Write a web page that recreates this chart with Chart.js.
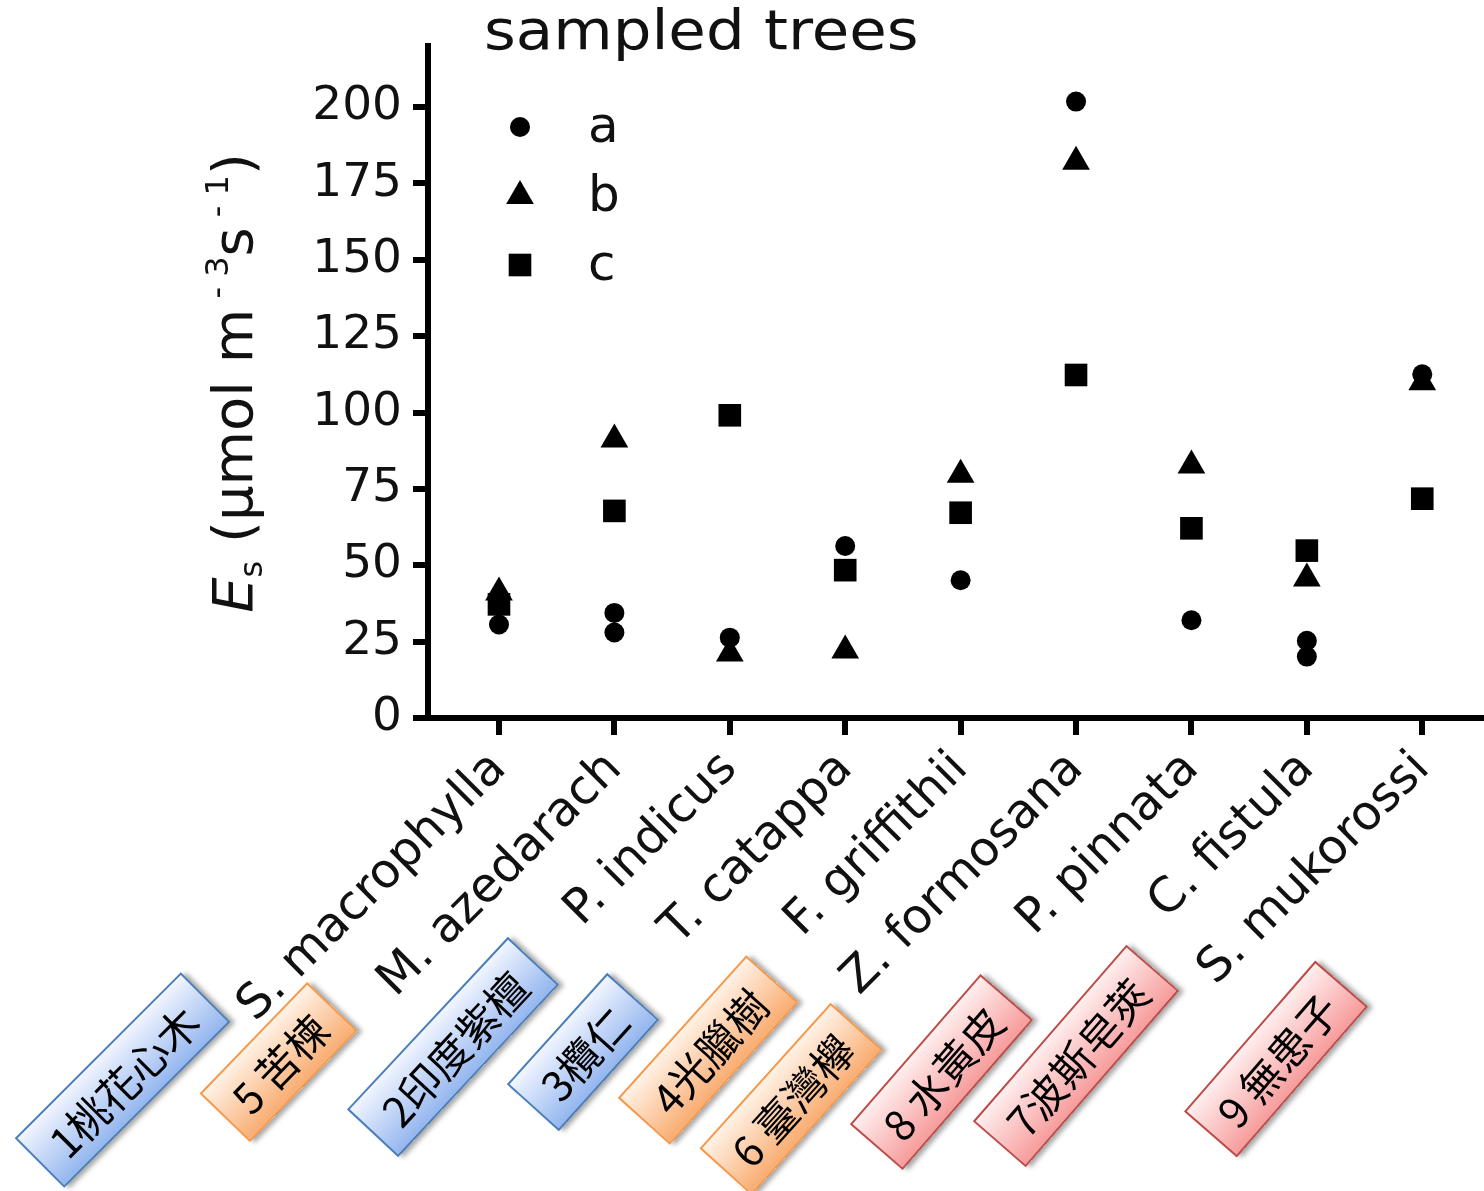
<!DOCTYPE html>
<html lang="zh-Hant">

<head>
    <meta charset="UTF-8">
    <title>sampled trees</title>
    <script src="https://cdn.jsdelivr.net/npm/chart.js"></script>
    <style>
        html, body { margin: 0; background: #fff; overflow: hidden; }
        #wrap { position: relative; width: 1484px; height: 1191px; overflow: hidden; }
        /* canvas is a bit wider than the page so the x axis runs to the right edge */
        #chart { position: absolute; left: 0; top: 0; }
        #title {
            position: absolute; left: 484px; top: 2px;
            font: 56px "DejaVu Sans"; line-height: 56px; color: #111; white-space: nowrap;
            transform: scaleX(1.09); transform-origin: left center;
        }
        #ytitle {
            position: absolute; width: 560px; height: 60px; left: -63px; top: 353px;
            transform: rotate(-90deg); transform-origin: center;
            font: 56px "DejaVu Sans"; line-height: 60px; color: #111; text-align: center; white-space: nowrap;
        }
        #ytitle sub, #ytitle sup { font-size: 32px; }
        #ytitle sub { vertical-align: -10px; }
        #ytitle sup { vertical-align: 24px; }
        .tag {
            position: absolute; height: 70px; box-sizing: border-box;
            display: flex; align-items: center; justify-content: center;
            font: 42px "Noto Sans CJK TC"; color: #000; white-space: pre;
            border: 2px solid; box-shadow: 3px 4px 5px rgba(0, 0, 0, 0.35);
            transform-origin: center;
        }
        .blue { background: linear-gradient(#f1f5ff, #94b6ef); border-color: #4a7ebb; }
        .orange { background: linear-gradient(#fff2e6, #f9ad72); border-color: #f79646; }
        .red { background: linear-gradient(#ffeeee, #f79c9c); border-color: #be4b48; }
    </style>
</head>

<body>
    <div id="wrap">
        <canvas id="chart" width="1500" height="1191"></canvas>
        <div id="title">sampled trees</div>
        <div id="ytitle"><i>E</i><sub>s</sub> (μmol m<sup> - 3</sup>s<sup> - 1</sup>)</div>
    </div>

    <script>
        // species on the x axis
        const species = ['S. macrophylla', 'M. azedarach', 'P. indicus', 'T. catappa', 'F. griffithii',
            'Z. formosana', 'P. pinnata', 'C. fistula', 'S. mukorossi'];
        // Es values per sampled tree
        const treeA = [30.6, 34.4, 26.3, 56.3, 45.1, 201.8, 32.0, 25.3, 112.5];
        const treeA2 = [null, 28.0, null, null, null, null, null, 20.1, null]; // second circle where two are plotted
        const treeB = [41.1, 91.2, 21.1, 22.1, 79.6, 182.1, 82.7, 45.7, 109.9];
        const treeC = [37.2, 67.8, 99.1, 48.4, 67.2, 112.3, 62.1, 54.8, 71.8];
        const yTicks = [0, 25, 50, 75, 100, 125, 150, 175, 200];
        const legendNames = ['a', 'b', 'c'];

        // Chinese name tags under the axis
        const tagText = ['1桃花心木', '5 苦楝', '2印度紫檀', '3欖仁', '4光臘樹', '6 臺灣欅', '8 水黃皮', '7波斯皂莢', '9 無患子'];
        const tagColor = ['blue', 'orange', 'blue', 'blue', 'orange', 'orange', 'red', 'red', 'red'];
        // layout of the tags: centre x, centre y, length, angle
        const tagBox = [
            [122, 1080, 235, -45], [278, 1062, 155, -46], [453, 1047, 236, -47], [583, 1052, 150, -48],
            [708, 1050, 192, -48], [791, 1099, 196, -48], [941, 1072, 199, -49], [1076, 1056, 234, -49],
            [1276, 1059, 200, -49]
        ];

        const wrap = document.getElementById('wrap');
        tagText.forEach((t, i) => {
            const [cx, cy, w, ang] = tagBox[i];
            const d = document.createElement('div');
            d.className = 'tag ' + tagColor[i];
            d.textContent = t;
            d.style.width = w + 'px';
            d.style.left = (cx - w / 2) + 'px';
            d.style.top = (cy - 35) + 'px';
            d.style.transform = 'rotate(' + ang + 'deg)';
            wrap.appendChild(d);
        });

        function toPoints(arr) {
            return arr.map((v, i) => v == null ? null : { x: i, y: v }).filter(p => p);
        }

        // same shapes as chart.js point styles
        function drawMarker(ctx, style, r, x, y) {
            ctx.beginPath();
            if (style === 'circle') {
                ctx.arc(x, y, r, 0, Math.PI * 2);
            } else if (style === 'triangle') {
                let rad = 0;
                ctx.moveTo(x + Math.sin(rad) * r, y - Math.cos(rad) * r);
                rad += Math.PI * 2 / 3;
                ctx.lineTo(x + Math.sin(rad) * r, y - Math.cos(rad) * r);
                rad += Math.PI * 2 / 3;
                ctx.lineTo(x + Math.sin(rad) * r, y - Math.cos(rad) * r);
                ctx.closePath();
            } else {
                const s = Math.SQRT1_2 * r;
                ctx.rect(x - s, y - s, 2 * s, 2 * s);
            }
            ctx.fill();
        }

        // legend inside the plot, top left
        const innerLegend = {
            id: 'innerLegend',
            afterDraw(chart) {
                const ctx = chart.ctx;
                const area = chart.chartArea;
                ctx.save();
                ctx.font = '50px "DejaVu Sans"';
                ctx.textBaseline = 'middle';
                chart.data.datasets.forEach(ds => {
                    if (ds.legendIndex == null) return;
                    const y = area.top + 81 + ds.legendIndex * 69;
                    ctx.fillStyle = '#000';
                    drawMarker(ctx, ds.pointStyle, ds.pointRadius, area.left + 92, y);
                    ctx.fillStyle = '#111';
                    ctx.fillText(ds.label, area.left + 160, y + 2);
                });
                ctx.restore();
            }
        };

        const pointBase = { backgroundColor: '#000', borderColor: '#000', borderWidth: 0, showLine: false };

        const data = {
            datasets: [
                { ...pointBase, label: legendNames[0], legendIndex: 0, data: toPoints(treeA), pointStyle: 'circle', pointRadius: 10 },
                { ...pointBase, label: legendNames[0], data: toPoints(treeA2), pointStyle: 'circle', pointRadius: 10 },
                { ...pointBase, label: legendNames[1], legendIndex: 1, data: toPoints(treeB), pointStyle: 'triangle', pointRadius: 16 },
                { ...pointBase, label: legendNames[2], legendIndex: 2, data: toPoints(treeC), pointStyle: 'rect', pointRadius: 16 }
            ]
        };

        const config = {
            type: 'scatter',
            data: data,
            options: {
                responsive: false,
                animation: false,
                events: [],
                layout: { padding: { top: 46, left: 0, right: 0, bottom: 0 } },
                plugins: { legend: { display: false }, tooltip: { enabled: false } },
                scales: {
                    x: {
                        type: 'linear',
                        min: -0.615,
                        max: 8.535,
                        afterBuildTicks: s => { s.ticks = species.map((n, i) => ({ value: i })); },
                        afterFit: s => { s.height = 473; s.paddingRight = 0; s.paddingLeft = 0; },
                        grid: { drawOnChartArea: false, color: '#000', lineWidth: 6, tickLength: 17 },
                        border: { display: true, color: '#000', width: 6 },
                        ticks: {
                            autoSkip: false, minRotation: 45, maxRotation: 45, padding: 6,
                            color: '#111', font: { family: 'DejaVu Sans', size: 48 },
                            callback: v => species[v]
                        }
                    },
                    y: {
                        min: 0,
                        max: 220,
                        afterBuildTicks: s => { s.ticks = yTicks.map(v => ({ value: v })); },
                        afterFit: s => { s.width = 428; s.paddingTop = 0; s.paddingBottom = 0; },
                        grid: { drawOnChartArea: false, color: '#000', lineWidth: 6, tickLength: 15 },
                        border: { display: true, color: '#000', width: 6 },
                        ticks: {
                            padding: 11, color: '#111',
                            font: { family: 'DejaVu Sans', size: 47 }
                        }
                    }
                }
            },
            plugins: [innerLegend]
        };

        const esChart = new Chart(document.getElementById('chart'), config);
    </script>
</body>

</html>
